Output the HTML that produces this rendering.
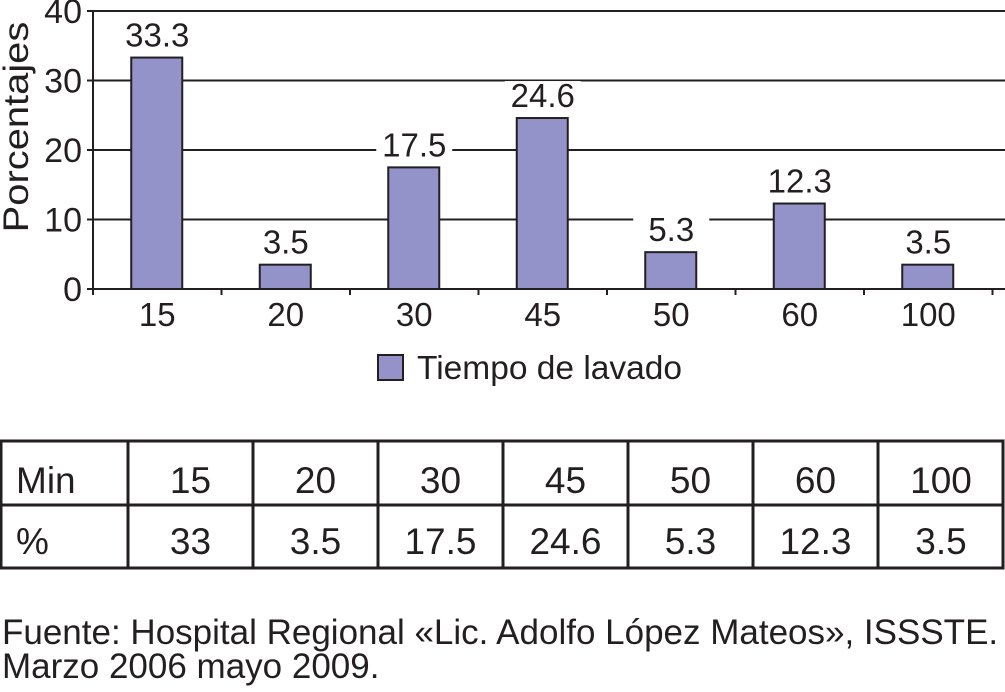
<!DOCTYPE html>
<html><head><meta charset="utf-8"><style>
body{margin:0;background:#fff;width:1005px;height:692px;overflow:hidden;font-family:"Liberation Sans",sans-serif;}
svg{position:absolute;left:0;top:0}
</style></head><body>
<svg width="1005" height="692" id="svg" font-family="Liberation Sans, sans-serif" fill="#231f20"></svg>
<script>
const categories=["15","20","30","45","50","60","100"];
const values=[33.3,3.5,17.5,24.6,5.3,12.3,3.5];
const labels=["33.3","3.5","17.5","24.6","5.3","12.3","3.5"];
const yTicks=[0,10,20,30,40];
const tablePct=["33","3.5","17.5","24.6","5.3","12.3","3.5"];
const NS="http://www.w3.org/2000/svg";
const svg=document.getElementById('svg');
function mk(t,a,txt){const e=document.createElementNS(NS,t);for(const k in a)e.setAttribute(k,a[k]);if(txt!==undefined)e.textContent=txt;svg.appendChild(e);return e;}
const x0=93,band=128.5,yZero=289,yTop=11;
const y=v=>yZero-(yZero-yTop)*v/40;
const xc=i=>x0+band*(i+0.5);
yTicks.forEach(t=>{
 if(t>0){const g=mk('line',{x1:x0,x2:1005,y1:y(t),y2:y(t),stroke:'#231f20','stroke-width':2});
 }
 const l=mk('text',{x:82,y:y(t)+12,'text-anchor':'end','font-size':34},String(t));
 
 mk('line',{x1:x0-6,x2:x0,y1:y(t),y2:y(t),stroke:'#231f20','stroke-width':2});
});
const ax=mk('line',{x1:x0,x2:x0,y1:yTop,y2:yZero,stroke:'#231f20','stroke-width':2});

const xa=mk('line',{x1:x0,x2:1005,y1:yZero,y2:yZero,stroke:'#231f20','stroke-width':2});

for(let i=0;i<=categories.length;i++)mk('line',{x1:x0+band*i,x2:x0+band*i,y1:yZero,y2:yZero+6,stroke:'#231f20','stroke-width':2});
const yt=mk('text',{transform:'translate(28,127) rotate(-90) scale(1.14,1)','text-anchor':'middle','font-size':35},'Porcentajes');

categories.forEach((c,i)=>{
 const b=mk('rect',{x:xc(i)-26,y:y(values[i]),width:51,height:yZero-y(values[i]),fill:'#9393c9',stroke:'#231f20','stroke-width':2});
 
 const by=y(values[i])-11;
 mk('rect',{x:xc(i)-38,y:by-26,width:76,height:28,fill:'#fff'});
 const v=mk('text',{x:xc(i),y:by,'text-anchor':'middle','font-size':33},labels[i]);
 
 const t=mk('text',{x:xc(i),y:326,'text-anchor':'middle','font-size':33},c);
 
});
const lb=mk('rect',{x:378,y:355,width:25,height:25,fill:'#9393c9',stroke:'#231f20','stroke-width':2});

const lt=mk('text',{x:417,y:379,'font-size':33.5},'Tiempo de lavado');

const cols=[0,128,253,378,503,628,753,878,1004];
const tb=mk('rect',{x:1,y:441,width:1002,height:127,fill:'none',stroke:'#231f20','stroke-width':3});

mk('line',{x1:1,x2:1004,y1:505,y2:505,stroke:'#231f20','stroke-width':3});
cols.slice(1,-1).forEach(c=>mk('line',{x1:c,x2:c,y1:441,y2:568,stroke:'#231f20','stroke-width':3}));
const h1=mk('text',{x:16,y:493,'font-size':37},'Min');
const h2=mk('text',{x:16,y:554,'font-size':37},'%');
categories.forEach((c,i)=>{
 const cx=(cols[i+1]+cols[i+2])/2;
 const a=mk('text',{x:cx,y:493,'text-anchor':'middle','font-size':37},c);
 
 const b=mk('text',{x:cx,y:554,'text-anchor':'middle','font-size':37},tablePct[i]);
 
});
const f1=mk('text',{x:2,y:644,'font-size':35},'Fuente: Hospital Regional «Lic. Adolfo López Mateos», ISSSTE.');

const f2=mk('text',{x:2,y:678,'font-size':35},'Marzo 2006 mayo 2009.');

</script>
</body></html>
